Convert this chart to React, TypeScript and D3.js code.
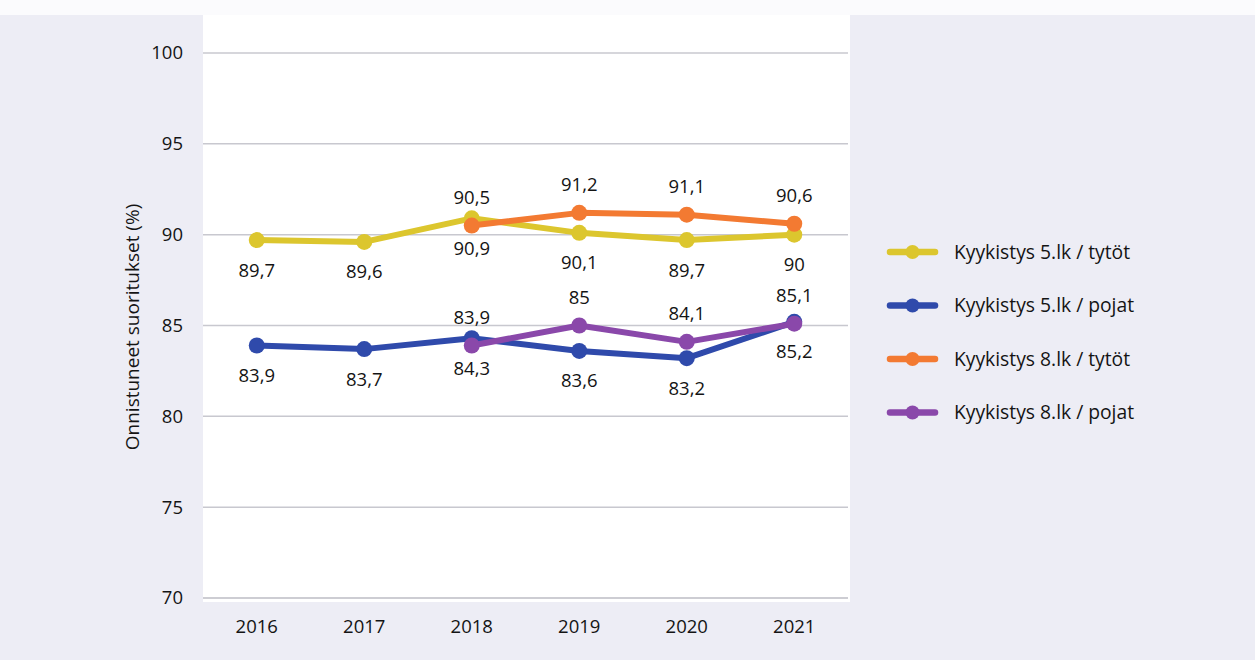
import { useEffect, useRef } from "react";
import * as d3 from "d3";

const years = ["2016", "2017", "2018", "2019", "2020", "2021"];
const tytot5 = [89.7, 89.6, 90.9, 90.1, 89.7, 90];
const pojat5 = [83.9, 83.7, 84.3, 83.6, 83.2, 85.2];
const tytot8 = [null, null, 90.5, 91.2, 91.1, 90.6];
const pojat8 = [null, null, 83.9, 85, 84.1, 85.1];
const yTicks = [70, 75, 80, 85, 90, 95, 100];

const series = [
  { name: "Kyykistys 5.lk / tytöt", values: tytot5, color: "#dcc62e", labelPos: "below" },
  { name: "Kyykistys 5.lk / pojat", values: pojat5, color: "#2f4aab", labelPos: "below" },
  { name: "Kyykistys 8.lk / tytöt", values: tytot8, color: "#f37a32", labelPos: "above" },
  { name: "Kyykistys 8.lk / pojat", values: pojat8, color: "#8a48aa", labelPos: "above" },
];

const W = 1255;
const H = 660;
const font = "'Open Sans', 'Noto Sans', sans-serif";
const ink = "#141414";

export default function App() {
  const ref = useRef<SVGSVGElement>(null);

  useEffect(() => {
    if (!ref.current) return;
    const svg = d3.select(ref.current);
    svg.selectAll("*").remove();

    const left = 203, right = 848, top = 53, bottom = 598;

    const x = d3.scalePoint<string>().domain(years).range([left, right]).padding(0.5);
    const y = d3.scaleLinear().domain([70, 100]).range([bottom, top]);

    // page background (scanned page) and chart's white area
    svg.append("rect").attr("width", W).attr("height", H).attr("fill", "#ededf5");
    svg.append("rect").attr("width", W).attr("height", 15).attr("fill", "#fbfbfd");
    svg.append("rect").attr("x", left).attr("y", 15).attr("width", right - left + 2).attr("height", bottom - 15 + 4).attr("fill", "#ffffff");

    // gridlines
    svg.append("g")
      .selectAll("line")
      .data(yTicks)
      .join("line")
      .attr("x1", left)
      .attr("x2", right)
      .attr("y1", (d) => y(d))
      .attr("y2", (d) => y(d))
      .attr("stroke", (d) => (d === 70 ? "#bdbdc4" : "#c8c8cf"))
      .attr("stroke-width", 1.5);

    // y tick labels
    svg.append("g")
      .selectAll("text")
      .data(yTicks)
      .join("text")
      .attr("x", 183)
      .attr("y", (d) => y(d))
      .attr("dy", "0.35em")
      .attr("text-anchor", "end")
      .attr("font-family", font)
      .attr("font-size", 18.5)
      .attr("fill", ink)
      .text((d) => d);

    // x labels
    svg.append("g")
      .selectAll("text")
      .data(years)
      .join("text")
      .attr("x", (d) => x(d)!)
      .attr("y", 627)
      .attr("dy", "0.35em")
      .attr("text-anchor", "middle")
      .attr("font-family", font)
      .attr("font-size", 18.5)
      .attr("fill", ink)
      .text((d) => d);

    // y title
    svg.append("text")
      .attr("transform", `translate(132,327) rotate(-90)`)
      .attr("dy", "0.35em")
      .attr("text-anchor", "middle")
      .attr("font-family", font)
      .attr("font-size", 19)
      .attr("fill", ink)
      .text("Onnistuneet suoritukset (%)");

    const line = d3.line<number | null>()
      .defined((d) => d !== null)
      .x((_, i) => x(years[i])!)
      .y((d) => y(d as number));

    series.forEach((s) => {
      const g = svg.append("g");
      g.append("path")
        .attr("d", line(s.values))
        .attr("fill", "none")
        .attr("stroke", s.color)
        .attr("stroke-width", 6)
        .attr("stroke-linejoin", "round")
        .attr("stroke-linecap", "round");

      const pts = s.values
        .map((v, i) => ({ v, year: years[i] }))
        .filter((p) => p.v !== null) as { v: number; year: string }[];

      g.selectAll("circle")
        .data(pts)
        .join("circle")
        .attr("cx", (d) => x(d.year)!)
        .attr("cy", (d) => y(d.v))
        .attr("r", 8)
        .attr("fill", s.color);

      g.selectAll("text")
        .data(pts)
        .join("text")
        .attr("x", (d) => x(d.year)!)
        .attr("y", (d) => y(d.v) + (s.labelPos === "above" ? -28 : 30))
        .attr("dy", "0.35em")
        .attr("text-anchor", "middle")
        .attr("font-family", font)
        .attr("font-size", 18.5)
        .attr("fill", ink)
        .text((d) => String(d.v).replace(".", ","));
    });

    // legend
    const legend = svg.append("g");
    series.forEach((s, i) => {
      const ly = 252 + i * 53.5;
      legend.append("line")
        .attr("x1", 890)
        .attr("x2", 935)
        .attr("y1", ly)
        .attr("y2", ly)
        .attr("stroke", s.color)
        .attr("stroke-width", 6.5)
        .attr("stroke-linecap", "round");
      legend.append("circle").attr("cx", 912.5).attr("cy", ly).attr("r", 7).attr("fill", s.color);
      legend.append("text")
        .attr("x", 954)
        .attr("y", ly)
        .attr("dy", "0.35em")
        .attr("font-family", font)
        .attr("font-size", 19.3)
        .attr("fill", ink)
        .text(s.name);
    });
  }, []);

  return (
    <svg
      ref={ref}
      width={W}
      height={H}
      style={{ position: "absolute", left: 0, top: 0, display: "block" }}
    />
  );
}
